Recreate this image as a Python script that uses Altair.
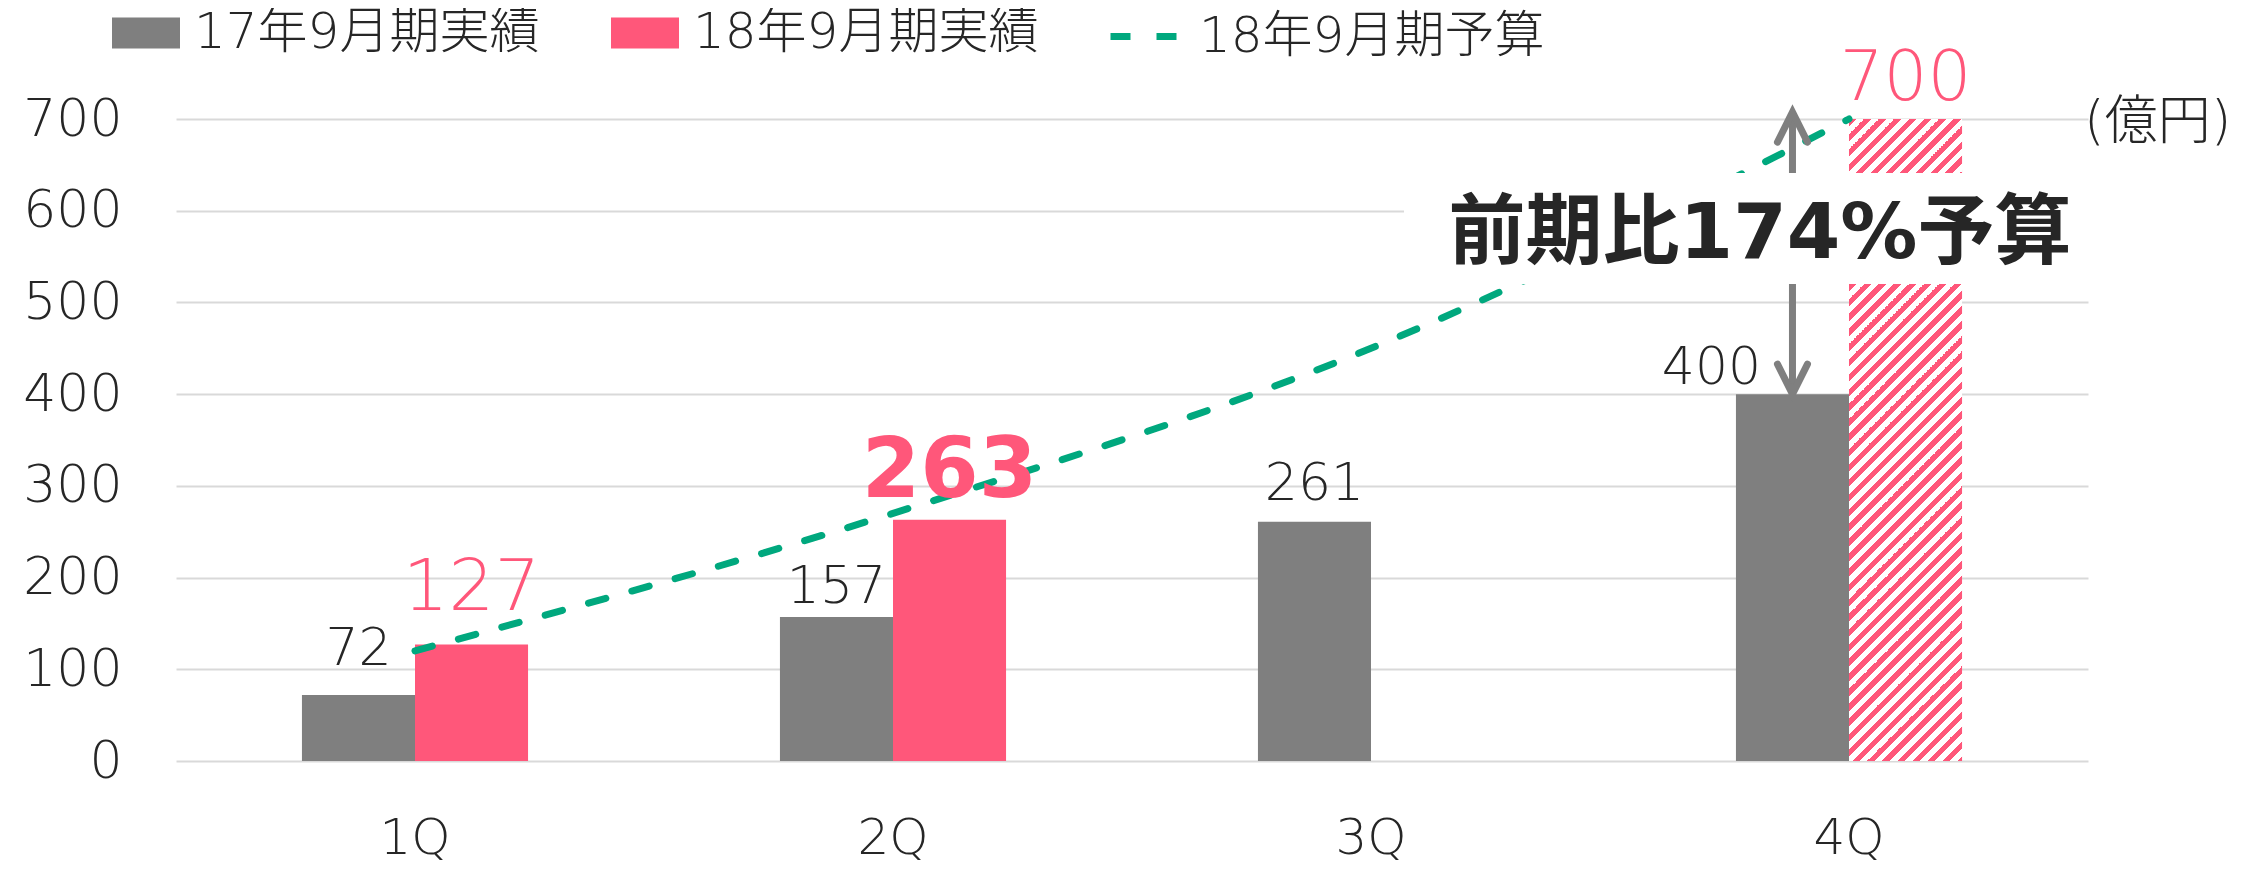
import math
import altair as alt
import pandas as pd

# ---------------- data ----------------
quarters = ["1Q", "2Q", "3Q", "4Q"]
actual_17 = [72, 157, 261, 400]          # 17年9月期実績
actual_18 = [127, 263, None, None]       # 18年9月期実績
budget_18 = [120, 270, 450, 700]         # 18年9月期予算 (line)
budget_4q = 700                          # 4Q budget bar (hatched)
series_names = ["17年9月期実績", "18年9月期実績", "18年9月期予算"]
y_ticks = [0, 100, 200, 300, 400, 500, 600, 700]
annotation_text = "前期比174%予算"
unit_text = "(億円)"

# ---------------- style ----------------
GRAY = "#7F7F7F"
PINK = "#FF577A"
GREEN = "#00A87E"
DARK = "#262626"
FONT = "'DejaVu Sans', 'Noto Sans CJK JP', sans-serif"
W, H = 1912, 642
PAD_INNER = 0.527

bars_df = pd.DataFrame(
    [{"Q": q, "series": series_names[0], "value": v} for q, v in zip(quarters, actual_17)]
    + [{"Q": q, "series": series_names[1], "value": v} for q, v in zip(quarters, actual_18) if v is not None]
)
line_df = pd.DataFrame({"Q": quarters, "series": series_names[2], "value": budget_18})
hatch_df = pd.DataFrame({"Q": ["4Q"], "series": [series_names[1]], "value": [budget_4q]})

yscale = alt.Scale(domain=[0, 700], nice=False, zero=True)
yaxis = alt.Axis(values=y_ticks, title=None, domain=False, ticks=False, tickSize=0,
                 labelPadding=54, labelFontSize=52, labelFont=FONT, labelFontWeight=300,
                 labelColor=DARK, gridColor="#D9D9D9", gridWidth=2)
X = alt.X("Q:N", sort=quarters, title=None,
          scale=alt.Scale(domain=quarters, paddingInner=PAD_INNER, paddingOuter=PAD_INNER / 2),
          axis=alt.Axis(labelAngle=0, domain=False, ticks=False, tickSize=0, grid=False,
                        labelPadding=52, labelFontSize=50, labelFont=FONT, labelFontWeight=300,
                        labelColor=DARK))
XO = alt.XOffset("series:N", scale=alt.Scale(domain=series_names[:2], paddingInner=0, paddingOuter=0))
Y = alt.Y("value:Q", scale=yscale, axis=yaxis)

# bars
bars = alt.Chart(bars_df).mark_bar().encode(
    x=X, xOffset=XO, y=Y,
    color=alt.Color("series:N",
                    scale=alt.Scale(domain=series_names[:2], range=[GRAY, PINK]),
                    legend=alt.Legend(orient="none", legendX=-64, legendY=-120, direction="horizontal",
                                      title=None, symbolType="M-1,-0.456H1V0.456H-1Z", symbolSize=4624,
                                      symbolStrokeWidth=0, symbolOpacity=1, labelOffset=14,
                                      columnPadding=71, labelFontSize=50, labelFont=FONT,
                                      labelFontWeight=300, labelColor=DARK, labelLimit=0, padding=0)),
)

# hatched budget bar via a striped linear gradient (45 degree "/" stripes)
bar_w = (W / 4) * (1 - PAD_INNER) / 2
bar_h = H * budget_4q / 700
k = 1.0
period = 15.0
span = k * bar_w + bar_h
s = span / (k * k * bar_w * bar_w + bar_h * bar_h)
stops = []
n = int(math.ceil(span / period)) + 1
for i in range(n):
    t0 = min(1.0, i * period / span)
    t1 = min(1.0, (i * period + period * 0.5) / span)
    t2 = min(1.0, (i + 1) * period / span)
    stops += [alt.GradientStop(offset=t0, color=PINK), alt.GradientStop(offset=t1, color=PINK),
              alt.GradientStop(offset=t1, color="white"), alt.GradientStop(offset=t2, color="white")]
hatch_grad = alt.LinearGradient(gradient="linear", stops=stops, x1=0, y1=0, x2=s * k * bar_w, y2=s * bar_h)
hatch = alt.Chart(hatch_df).mark_bar(fill=hatch_grad).encode(x=X, xOffset=XO, y=Y)

# budget line
line = alt.Chart(line_df).mark_line(strokeWidth=7, strokeDash=[18, 27], strokeCap="round",
                                     interpolate="monotone").encode(
    x=X, y=Y,
    color=alt.Color("series:N", scale=alt.Scale(domain=[series_names[2]], range=[GREEN]),
                    legend=alt.Legend(orient="none", legendX=931, legendY=-122, title=None,
                                      symbolType="stroke", symbolSize=5184, symbolStrokeWidth=7,
                                      symbolDash=[20, 26], labelOffset=13, labelFontSize=50,
                                      labelFont=FONT, labelFontWeight=300, labelColor=DARK,
                                      labelLimit=0, padding=0)),
)

# arrow (from 17年 4Q bar top up to the budget level)
arrow_df = pd.DataFrame({"Q": ["4Q"], "series": [series_names[0]], "low": [actual_17[3]], "high": [budget_4q + 5]})
arrow_shaft = alt.Chart(arrow_df).mark_rule(color=GRAY, strokeWidth=7).encode(
    x=X, xOffset=XO, y=alt.Y("low:Q", scale=yscale, axis=yaxis), y2="high:Q")
up_df = pd.DataFrame({"Q": ["4Q"], "series": [series_names[0]], "value": [budget_4q + 7.5]})
down_df = pd.DataFrame({"Q": ["4Q"], "series": [series_names[0]], "value": [actual_17[3]]})
arrow_up = alt.Chart(up_df).mark_point(shape="M-1,2L0,0L1,2", size=900, filled=False, color=GRAY,
                                       strokeWidth=7, opacity=1, strokeCap="round").encode(x=X, xOffset=XO, y=Y)
arrow_down = alt.Chart(down_df).mark_point(shape="M-1,-2L0,0L1,-2", size=900, filled=False, color=GRAY,
                                           strokeWidth=7, opacity=1, strokeCap="round").encode(x=X, xOffset=XO, y=Y)


def value_label(q, series, value, gap, size, color, weight, dx=0):
    df = pd.DataFrame({"Q": [q], "series": [series], "value": [value], "label": [str(value)]})
    return alt.Chart(df).mark_text(align="center", baseline="alphabetic", dx=dx, dy=-gap,
                                   fontSize=size, font=FONT, fontWeight=weight, color=color).encode(
        x=X, xOffset=XO, y=Y, text="label:N")


gaps17 = [30, 14, 22, 10]
dx17 = [0, 0, 0, -81]
labels = [value_label(q, series_names[0], v, g, 52, DARK, 300, d)
          for q, v, g, d in zip(quarters, actual_17, gaps17, dx17)]
labels.append(value_label(quarters[0], series_names[1], actual_18[0], 35, 72, PINK, 300))
labels.append(value_label(quarters[1], series_names[1], actual_18[1], 23, 84, PINK, "bold"))
labels.append(value_label("4Q", series_names[1], budget_4q, 19, 69, PINK, 300))

one = pd.DataFrame({"d": [0]})
white_box = alt.Chart(one).mark_rect(color="white").encode(
    x=alt.value(1228), x2=alt.value(1945), y=alt.value(54), y2=alt.value(165))
annotation = alt.Chart(one).mark_text(text=annotation_text, align="center", baseline="middle",
                                      fontSize=77, font=FONT, fontWeight="bold", color=DARK).encode(
    x=alt.value(1584), y=alt.value(116))
unit = alt.Chart(one).mark_text(text=unit_text, align="left", baseline="middle", fontSize=53,
                                font=FONT, fontWeight=300, color=DARK).encode(
    x=alt.value(1908), y=alt.value(4))

chart = alt.layer(
    bars, hatch, arrow_shaft, line, *labels, white_box, arrow_up, arrow_down, annotation, unit
).resolve_scale(color="independent").properties(
    width=W, height=H,
    padding={"left": 168, "top": 111, "right": 150, "bottom": 106},
    autosize=alt.AutoSizeParams(type="none"),
).configure_view(strokeWidth=0)

chart.save("out.html", embed_options={"renderer": "svg", "actions": False})
